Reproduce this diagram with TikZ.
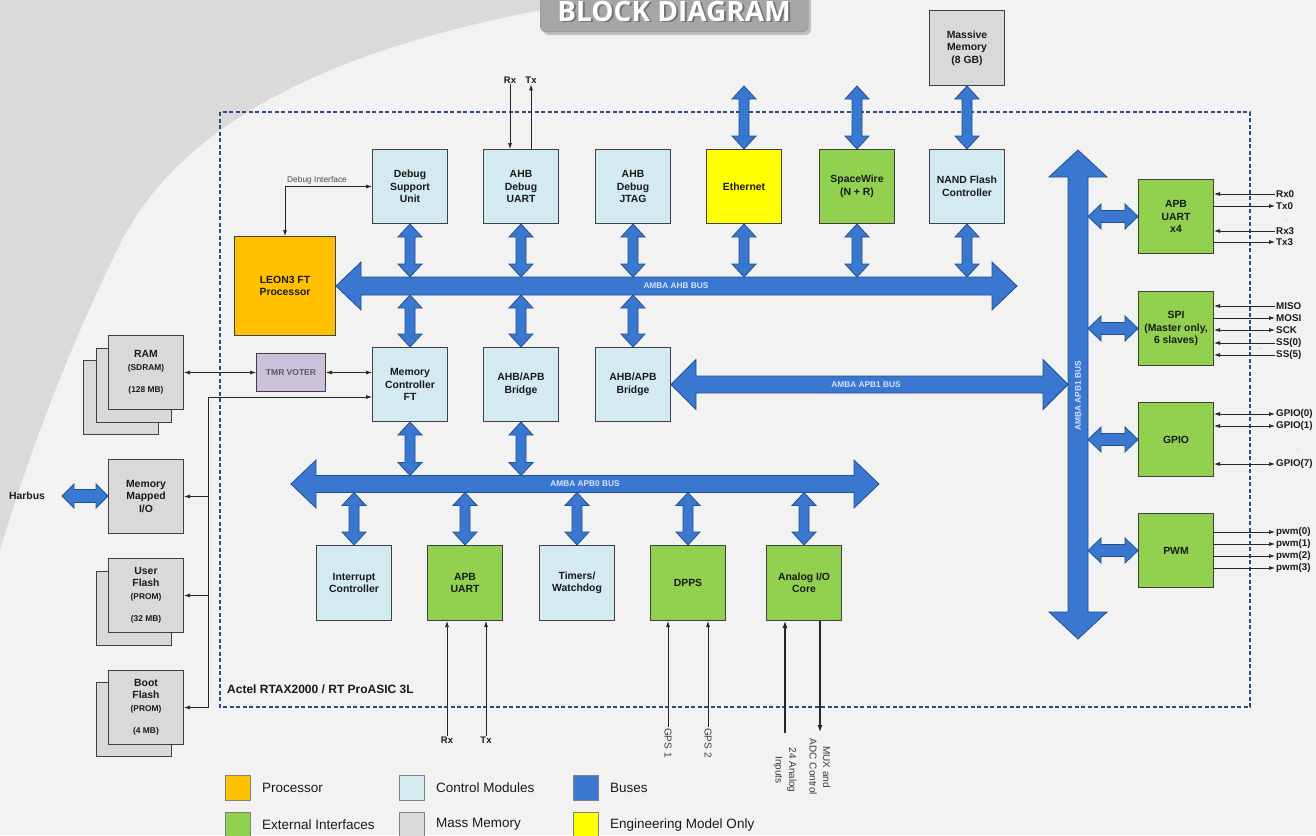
\documentclass[tikz,border=0pt]{standalone}
\usepackage{fontspec}
\setmainfont{Liberation Sans}
\newfontfamily\titlefont{Open Sans}
\usetikzlibrary{arrows.meta,calc}

\definecolor{bgc}{HTML}{F2F2F2}
\definecolor{bgdark}{HTML}{DADADA}
\definecolor{ctrlc}{HTML}{D3EAF0}
\definecolor{extc}{HTML}{92D050}
\definecolor{procc}{HTML}{FFC000}
\definecolor{memc}{HTML}{D9D9D9}
\definecolor{engc}{HTML}{FFFF00}
\definecolor{busc}{HTML}{3A77D0}
\definecolor{busedge}{HTML}{23508F}
\definecolor{framec}{HTML}{2B4C7E}
\definecolor{tmrc}{HTML}{CCC0DA}
\definecolor{tmrtext}{HTML}{595966}
\definecolor{boxedge}{HTML}{404040}
\definecolor{linec}{HTML}{262626}
\definecolor{txtc}{HTML}{1A1A1A}
\definecolor{buslblc}{HTML}{D6E4F7}
\definecolor{legedge}{HTML}{808080}
\definecolor{titlec}{HTML}{A6A6A6}
\definecolor{titleedge}{HTML}{8C8C8C}

\newcommand\sm{\fontsize{8.4}{11}\selectfont}

% horizontal fat double arrow: #1 left tip, #2 right tip, #3 shaft half, #4 head half, #5 head length
\newcommand\fath[5]{\path[fat] let \p1=(#1), \p2=(#2) in
  (\x1,\y1) -- (\x1+#5pt,\y1+#4pt) -- (\x1+#5pt,\y1+#3pt) -- (\x2-#5pt,\y1+#3pt)
  -- (\x2-#5pt,\y1+#4pt) -- (\x2,\y1) -- (\x2-#5pt,\y1-#4pt) -- (\x2-#5pt,\y1-#3pt)
  -- (\x1+#5pt,\y1-#3pt) -- (\x1+#5pt,\y1-#4pt) -- cycle;}
% vertical fat double arrow: #1 top tip, #2 bottom tip
\newcommand\fatv[5]{\path[fat] let \p1=(#1), \p2=(#2) in
  (\x1,\y1) -- (\x1+#4pt,\y1-#5pt) -- (\x1+#3pt,\y1-#5pt) -- (\x1+#3pt,\y2+#5pt)
  -- (\x1+#4pt,\y2+#5pt) -- (\x1,\y2) -- (\x1-#4pt,\y2+#5pt) -- (\x1-#3pt,\y2+#5pt)
  -- (\x1-#3pt,\y1-#5pt) -- (\x1-#4pt,\y1-#5pt) -- cycle;}
% right-hand signal
\newcommand\sigR[5]{\node[siglbl] (#1) at (1275,#2) {#3};
  \draw[wire,#4] (#1.west -| #5.east) -- (#1.west);}

\tikzset{
 blk/.style={draw=boxedge, line width=1pt, minimum width=75pt, minimum height=74pt,
   inner sep=1pt, align=center, anchor=north west, text=txtc,
   font=\fontsize{10.4}{12.5}\selectfont\bfseries},
 ctrl/.style={blk, fill=ctrlc},
 extif/.style={blk, fill=extc},
 procbox/.style={blk, fill=procc},
 membox/.style={blk, fill=memc},
 engbox/.style={blk, fill=engc},
 fat/.style={fill=busc, draw=busedge, line width=0.8pt, line join=miter},
 buslbl/.style={text=buslblc, font=\fontsize{8.3}{9}\selectfont\bfseries, inner sep=0pt},
 wire/.style={draw=linec, line width=0.7pt},
 siglbl/.style={anchor=west, inner sep=1pt, text=txtc, font=\fontsize{9.8}{11}\selectfont\bfseries},
 boldlbl/.style={inner sep=1pt, text=txtc, font=\fontsize{9.5}{11}\selectfont\bfseries},
 reglbl/.style={inner sep=1pt, text=txtc!85, font=\fontsize{10}{13.5}\selectfont, align=center},
 dotlbl/.style={text=gray, font=\fontsize{5}{5}\selectfont, inner sep=0pt},
 legsq/.style={draw=legedge, line width=0.8pt, minimum size=25pt, inner sep=0pt, anchor=north west},
 leglbl/.style={anchor=west, inner sep=0pt, text=txtc, font=\fontsize{13.5}{15}\selectfont},
 chipframe/.style={draw=framec, line width=2.3pt, dash pattern=on 4pt off 2.5pt},
}

\begin{document}
\begin{tikzpicture}[x=1pt,y=-1pt,>={Latex[length=6pt,width=4pt]}]
\useasboundingbox (0,0) rectangle (1316,835);
\fill[bgc] (0,0) rectangle (1316,835);
\fill[bgdark] (0,0) -- (600,0) .. controls (340,40) and (185,120) .. (122,240)
   .. controls (72,340) and (30,450) .. (0,550) -- cycle;

% title
\fill[black!25, rounded corners=6pt] (543,-10) rectangle (811,35);
\node[draw=titleedge, fill=titlec, rounded corners=6pt, minimum width=268pt,
      minimum height=45pt, anchor=south west, inner sep=0pt] (titlebox) at (540,32) {};
\node[anchor=base, text=black!55, font=\titlefont\fontsize{28}{30}\selectfont\bfseries] (titlesh) at (676,23) {BLOCK DIAGRAM};
\node[anchor=base, text=white, font=\titlefont\fontsize{28}{30}\selectfont\bfseries] (title) at (674,21) {BLOCK DIAGRAM};

% chip frame
\draw[chipframe] (220,112) rectangle (1250,707);
\node[anchor=west, inner sep=0pt, text=txtc, font=\fontsize{12}{14}\selectfont\bfseries] (chipname) at (227,689) {Actel RTAX2000 / RT ProASIC 3L};

% top row
\node[ctrl] (dsu) at (372,149) {Debug\\Support\\Unit};
\node[ctrl] (duart) at (483,149) {AHB\\Debug\\UART};
\node[ctrl] (djtag) at (595,149) {AHB\\Debug\\JTAG};
\node[engbox] (eth) at (706,149) {Ethernet};
\node[extif] (spw) at (819,149) {SpaceWire\\(N + R)};
\node[ctrl] (nand) at (929,149) {NAND Flash\\Controller};
\node[membox, minimum height=75pt] (mm) at (929,10) {Massive\\Memory\\(8 GB)};

\node[procbox, minimum width=101pt, minimum height=99pt] (leon) at (234,236) {LEON3 FT\\Processor};

% middle row
\node[ctrl] (mc) at (372,347) {Memory\\Controller\\FT};
\node[ctrl] (br1) at (483,347) {AHB/APB\\Bridge};
\node[ctrl] (br2) at (595,347) {AHB/APB\\Bridge};
\node[blk, fill=tmrc, minimum width=69pt, minimum height=38pt, text=tmrtext,
      font=\fontsize{8.5}{10}\selectfont\bfseries] (tmr) at (256,353) {TMR VOTER};

% memories
\node[membox] (ram3) at (83,360) {};
\node[membox] (ram2) at (95.5,347.5) {};
\node[membox] (ram) at (108,335) {RAM\\{\sm (SDRAM)}\\[10pt]{\sm (128 MB)}};
\node[membox] (mmio) at (108,459) {Memory\\Mapped\\I/O};
\node[membox] (uflash2) at (96,571) {};
\node[membox] (uflash) at (108,558) {User\\Flash\\{\sm (PROM)}\\[10pt]{\sm (32 MB)}};
\node[membox] (bflash2) at (96,682) {};
\node[membox] (bflash) at (108,670) {Boot\\Flash\\{\sm (PROM)}\\[10pt]{\sm (4 MB)}};

% bottom row
\node[ctrl, minimum height=75pt] (ic) at (316,545) {Interrupt\\Controller};
\node[extif, minimum height=75pt] (auart) at (427,545) {APB\\UART};
\node[ctrl, minimum height=75pt] (tw) at (539,545) {Timers/\\Watchdog};
\node[extif, minimum height=75pt] (dpps) at (650,545) {DPPS};
\node[extif, minimum height=75pt] (aio) at (766,545) {Analog I/O\\Core};

% right column
\node[extif] (u4) at (1138,179) {APB\\UART\\x4};
\node[extif] (spi) at (1138,291) {SPI\\(Master only,\\6 slaves)};
\node[extif] (gpio) at (1138,402) {GPIO};
\node[extif] (pwm) at (1138,513) {PWM};

% ---- buses and fat arrows
\coordinate (ahbR) at (1017,286);
\coordinate (ahbT) at (0,277);
\coordinate (ahbB) at (0,295);
\fatv{dsu.south}{dsu.south |- ahbT}{5}{12}{13}
\fatv{duart.south}{duart.south |- ahbT}{5}{12}{13}
\fatv{djtag.south}{djtag.south |- ahbT}{5}{12}{13}
\fatv{eth.south}{eth.south |- ahbT}{5}{12}{13}
\fatv{spw.south}{spw.south |- ahbT}{5}{12}{13}
\fatv{nand.south}{nand.south |- ahbT}{5}{12}{13}
\fatv{mc.north |- ahbB}{mc.north}{5}{12}{13}
\fatv{br1.north |- ahbB}{br1.north}{5}{12}{13}
\fatv{br2.north |- ahbB}{br2.north}{5}{12}{13}
\fatv{eth.north |- mm.south}{eth.north}{5}{12}{13}
\fatv{spw.north |- mm.south}{spw.north}{5}{12}{13}
\fatv{mm.south}{nand.north}{5}{12}{13}
\fath{leon.east}{ahbR}{9}{24}{25}
\node[buslbl] (ahblbl) at (676,286) {AMBA AHB BUS};

\coordinate (apb0L) at (291,484);
\coordinate (apb0R) at (879,484);
\coordinate (apb0T) at (0,475.5);
\coordinate (apb0B) at (0,492.5);
\fatv{mc.south}{mc.south |- apb0T}{5}{12}{13}
\fatv{br1.south}{br1.south |- apb0T}{5}{12}{13}
\fatv{ic.north |- apb0B}{ic.north}{5}{12}{13}
\fatv{auart.north |- apb0B}{auart.north}{5}{12}{13}
\fatv{tw.north |- apb0B}{tw.north}{5}{12}{13}
\fatv{dpps.north |- apb0B}{dpps.north}{5}{12}{13}
\fatv{aio.north |- apb0B}{aio.north}{5}{12}{13}
\fath{apb0L}{apb0R}{8.5}{24}{25}
\node[buslbl] (apb0lbl) at (585,484) {AMBA APB0 BUS};

\coordinate (apb1R) at (1068,384.5);
\coordinate (apb1T) at (1078,150);
\coordinate (apb1Bt) at (1078,639);
\coordinate (apb1E) at (1088,0);
\fatv{apb1T}{apb1Bt}{10}{29}{27}
\fath{br2.east}{apb1R}{8.5}{25}{25}
\node[buslbl] (apb1hlbl) at (866,385) {AMBA APB1 BUS};
\node[buslbl, rotate=90] (apb1vlbl) at (1078,396) {AMBA APB1 BUS};
\fath{u4.west -| apb1E}{u4.west}{6}{12.5}{13}
\fath{spi.west -| apb1E}{spi.west}{6}{12.5}{13}
\fath{gpio.west -| apb1E}{gpio.west}{6}{12.5}{13}
\fath{pwm.west -| apb1E}{pwm.west}{6}{12.5}{13}

\node[boldlbl, font=\fontsize{10.4}{12}\selectfont\bfseries] (harbus) at (27,496) {Harbus};
\coordinate (hbA) at (62,496);
\fath{hbA}{mmio.west}{6.5}{12}{12}

% ---- thin wires
\node[inner sep=0pt, text=black!70, font=\fontsize{8.4}{10}\selectfont] (dbglbl) at (317,180) {Debug Interface};
\draw[wire,<->] (leon.north) |- (dsu.west);

\node[boldlbl] (rxtop) at (510,80) {Rx};
\node[boldlbl] (txtop) at (531,80) {Tx};
\draw[wire,->] (rxtop.south) -- (rxtop.south |- duart.north);
\draw[wire,->] (txtop.south |- duart.north) -- (txtop.south);

\draw[wire,<->] (ram.east |- tmr.west) -- (tmr.west);
\draw[wire,<->] (tmr.east) -- (tmr.east -| mc.west);
\coordinate (mbus) at (208,397);
\draw[wire,->] (mbus) -- (mbus -| mc.west);
\draw[wire,->] (mbus) |- (bflash.east);
\draw[wire,->] (mbus |- mmio.east) -- (mmio.east);
\draw[wire,->] (mbus |- uflash.east) -- (uflash.east);

% right signals
\sigR{rx0}{194}{Rx0}{<-}{u4}
\sigR{tx0}{206}{Tx0}{->}{u4}
\sigR{rx3}{231}{Rx3}{<-}{u4}
\sigR{tx3}{242}{Tx3}{->}{u4}
\node[dotlbl] (d1) at (1287,221) {...};
\sigR{miso}{306}{MISO}{<-}{spi}
\sigR{mosi}{318}{MOSI}{->}{spi}
\sigR{sck}{330}{SCK}{<->}{spi}
\sigR{ss0}{343}{SS(0)}{<-}{spi}
\sigR{ss5}{355}{SS(5)}{<-}{spi}
\node[dotlbl] (d2) at (1261,349) {...};
\sigR{gp0}{414}{GPIO(0)}{<->}{gpio}
\sigR{gp1}{426}{GPIO(1)}{<->}{gpio}
\sigR{gp7}{464}{GPIO(7)}{<->}{gpio}
\node[dotlbl] (d3) at (1297,450) {...};
\sigR{pw0}{532}{pwm(0)}{->}{pwm}
\sigR{pw1}{544}{pwm(1)}{->}{pwm}
\sigR{pw2}{556}{pwm(2)}{->}{pwm}
\sigR{pw3}{568}{pwm(3)}{->}{pwm}

% bottom signals
\node[boldlbl] (brx) at (447,740) {Rx};
\node[boldlbl] (btx) at (486,740) {Tx};
\draw[wire,->] (brx.north) -- (brx.north |- auart.south);
\draw[wire,->] (btx.north) -- (btx.north |- auart.south);
\node[reglbl, rotate=-90, anchor=west] (gps1) at (668,727) {GPS 1};
\node[reglbl, rotate=-90, anchor=west] (gps2) at (708,727) {GPS 2};
\draw[wire,->] (gps1.west) -- (gps1.west |- dpps.south);
\draw[wire,->] (gps2.west) -- (gps2.west |- dpps.south);
\coordinate (ainB) at (785,733);
\coordinate (muxB) at (820,732);
\draw[wire, line width=1.1pt, -{Latex[length=7pt,width=5pt]}] (ainB) -- (ainB |- aio.south);
\draw[wire, line width=1.1pt, -{Latex[length=7pt,width=5pt]}] (muxB |- aio.south) -- (muxB);
\node[reglbl, rotate=-90] (ainlbl) at (785,770) {24 Analog\\Inputs};
\node[reglbl, rotate=-90] (muxlbl) at (820,767) {MUX and\\ADC Control};

% legend
\node[legsq, fill=procc] (lg1) at (225,775) {};
\node[leglbl] (lt1) at (262,787.5) {Processor};
\node[legsq, fill=ctrlc] (lg2) at (399,775) {};
\node[leglbl] (lt2) at (436,787.5) {Control Modules};
\node[legsq, fill=busc] (lg3) at (573,775) {};
\node[leglbl] (lt3) at (610,787.5) {Buses};
\node[legsq, fill=extc] (lg4) at (225,812) {};
\node[leglbl] (lt4) at (262,824.5) {External Interfaces};
\node[legsq, fill=memc] (lg5) at (399,812) {};
\node[leglbl] (lt5) at (436,824.5) {Mass Memory};
\node[legsq, fill=engc] (lg6) at (573,812) {};
\node[leglbl] (lt6) at (610,824.5) {Engineering Model Only};
\end{tikzpicture}
\end{document}
